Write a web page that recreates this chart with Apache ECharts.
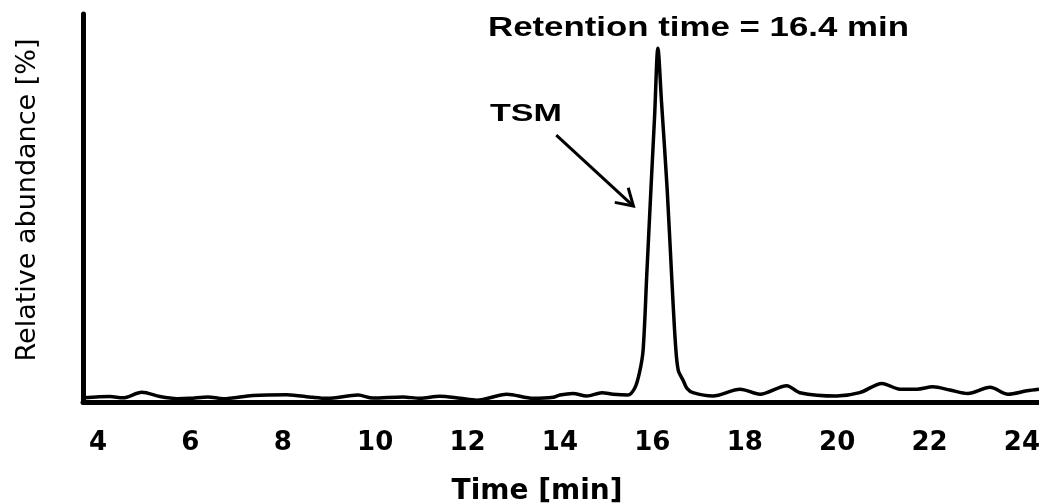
<!DOCTYPE html>
<html>
<head>
<meta charset="utf-8">
<script src="https://cdn.jsdelivr.net/npm/echarts@6/dist/echarts.min.js"></script>
<style>
html,body{margin:0;padding:0;background:#fff;}
#chart{width:1039px;height:504px;}
</style>
</head>
<body>
<div id="chart"></div>
<script>
// Retention time (min)
const timeMin = [3.7, 4.26, 4.54, 4.95, 5.34, 5.71, 5.99, 6.38, 6.71, 7.35, 8.09, 8.65, 8.96, 9.63, 9.95,
  10.60, 10.97, 11.40, 11.84, 12.20, 12.85, 13.42, 13.85, 14.0, 14.28, 14.58, 14.91, 15.15, 15.47, 15.62,
  15.72, 15.80, 15.88, 15.97, 16.05, 16.12, 16.20, 16.32, 16.42, 16.50, 16.56, 16.67, 16.75, 16.88, 17.31,
  17.90, 18.33, 18.91, 19.19, 19.99, 20.49, 20.97, 21.36, 21.73, 22.07, 22.44, 22.83, 23.31, 23.70, 24.11, 24.37];
// Relative abundance (%)
const abundance = [1.1, 1.4, 1.1, 2.5, 1.4, 0.85, 0.95, 1.3, 0.85, 1.7, 1.9, 1.2, 0.95, 1.8, 1.0,
  1.3, 0.95, 1.5, 0.95, 0.45, 2.0, 0.95, 1.2, 1.8, 2.2, 1.55, 2.4, 2.0, 1.8, 3.6,
  7.5, 13.4, 33, 55, 74, 91.2, 77, 55, 32, 15, 8.2, 5.5, 3.5, 2.4, 1.55,
  3.3, 2.0, 4.2, 2.4, 1.55, 2.4, 4.8, 3.3, 3.3, 3.9, 3.1, 2.2, 3.8, 2.0, 2.9, 3.3];
const xTickLabels = [4, 6, 8, 10, 12, 14, 16, 18, 20, 22, 24];
const peakLabel = 'Retention time = 16.4 min';
const compoundLabel = 'TSM';
// arrow from / to, in data units [time, abundance]
const arrowFrom = [13.92, 68.8];
const arrowTo = [15.59, 50.5];

const seriesData = timeMin.map((t, i) => [t, abundance[i]]);

const chart = echarts.init(document.getElementById('chart'), null, {renderer: 'canvas'});
chart.setOption({
  animation: false,
  backgroundColor: '#ffffff',
  grid: {left: 83, right: 0, top: 14, bottom: 102, containLabel: false, outerBoundsMode: 'none'},
  xAxis: {
    type: 'value',
    min: 3.675,
    max: 24.37,
    name: 'Time [min]',
    nameLocation: 'middle',
    nameGap: 76,
    nameTextStyle: {fontFamily: 'DejaVu Sans', fontWeight: 'bold', fontSize: 28, color: '#000', padding: [0, 48, 0, 0]},
    axisLine: {show: true, lineStyle: {color: '#000', width: 5}},
    axisTick: {show: false},
    splitLine: {show: false},
    axisLabel: {
      customValues: xTickLabels,
      margin: 28,
      fontFamily: 'DejaVu Sans', fontWeight: 'bold', fontSize: 26, color: '#000'
    }
  },
  yAxis: {
    type: 'value',
    min: 0,
    max: 100,
    name: 'Relative abundance [%]',
    nameLocation: 'middle',
    nameGap: 42,
    nameTextStyle: {fontFamily: 'DejaVu Sans', fontSize: 27, color: '#000', padding: [0, 0, 0, 16]},
    axisLine: {show: true, lineStyle: {color: '#000', width: 5}},
    axisTick: {show: false},
    axisLabel: {show: false},
    splitLine: {show: false}
  },
  series: [{
    type: 'line',
    data: seriesData,
    showSymbol: false,
    smooth: 0.3,
    lineStyle: {color: '#000', width: 3.5},
    z: 3
  }]
});

function drawAnnotations() {
  const a = chart.convertToPixel({gridIndex: 0}, arrowFrom);
  const b = chart.convertToPixel({gridIndex: 0}, arrowTo);
  const ang = Math.atan2(b[1] - a[1], b[0] - a[0]);
  const L = 19, spread = 0.55;
  const h1 = [b[0] - L * Math.cos(ang - spread), b[1] - L * Math.sin(ang - spread)];
  const h2 = [b[0] - L * Math.cos(ang + spread), b[1] - L * Math.sin(ang + spread)];
  chart.setOption({
    graphic: [
      {type: 'text', x: 488, y: 29, scaleX: 1.29,
        style: {text: peakLabel, font: 'bold 27px "Liberation Sans", Arial, sans-serif', fill: '#000', verticalAlign: 'middle', align: 'left'}},
      {type: 'text', x: 490, y: 114, scaleX: 1.42,
        style: {text: compoundLabel, font: 'bold 24px "Liberation Sans", Arial, sans-serif', fill: '#000', verticalAlign: 'middle', align: 'left'}},
      {type: 'polyline', shape: {points: [a, b]}, style: {stroke: '#000', lineWidth: 3, fill: null}},
      {type: 'polyline', shape: {points: [h1, b, h2]}, style: {stroke: '#000', lineWidth: 3, fill: null, lineJoin: 'miter'}}
    ]
  });
}
drawAnnotations();
</script>
</body>
</html>
